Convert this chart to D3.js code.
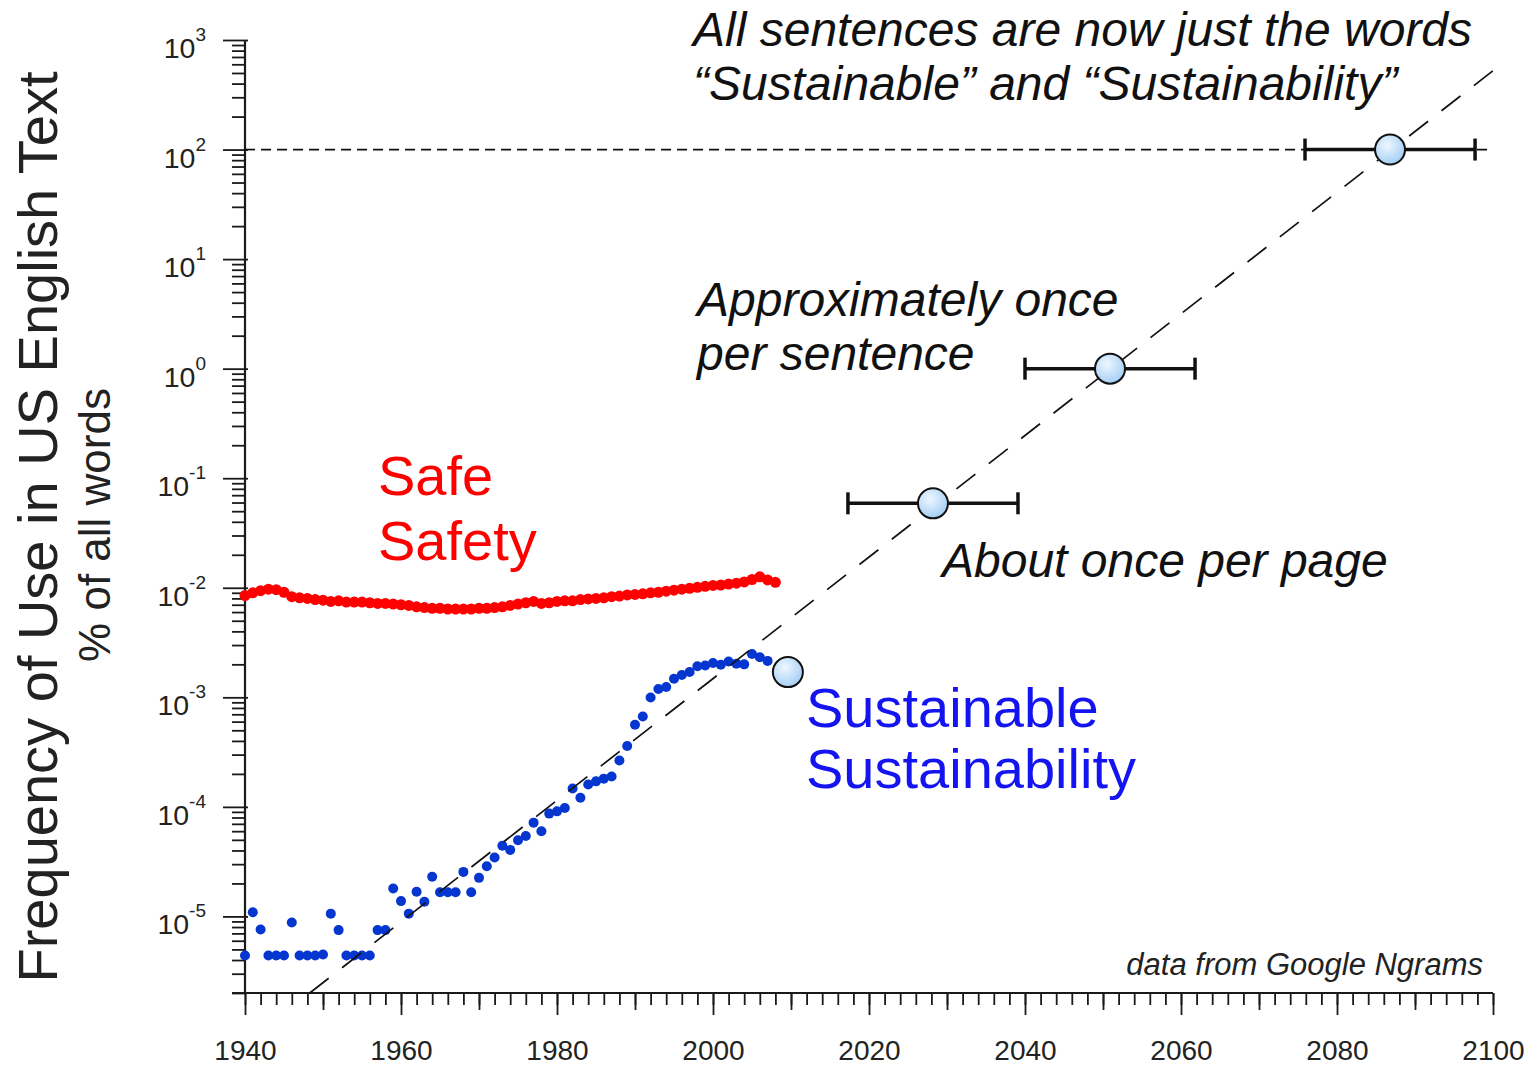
<!DOCTYPE html>
<html>
<head>
<meta charset="utf-8">
<script src="https://d3js.org/d3.v7.min.js"></script>
<style>
  body { margin: 0; background: #fff; }
  svg { display: block; font-family: Arial, "Liberation Sans", Helvetica, sans-serif; }
</style>
</head>
<body>
<div id="chart"></div>
<script>
// Data ----------------------------------------------
const safeYears = [1940,1941,1942,1943,1944,1945,1946,1947,1948,1949,
  1950,1951,1952,1953,1954,1955,1956,1957,1958,1959,
  1960,1961,1962,1963,1964,1965,1966,1967,1968,1969,
  1970,1971,1972,1973,1974,1975,1976,1977,1978,1979,
  1980,1981,1982,1983,1984,1985,1986,1987,1988,1989,
  1990,1991,1992,1993,1994,1995,1996,1997,1998,1999,
  2000,2001,2002,2003,2004,2005,2006,2007,2008];
const safeValues = [8.5e-3,9.0e-3,9.4e-3,9.7e-3,9.6e-3,9.1e-3,8.3e-3,8.1e-3,8.0e-3,7.8e-3,
  7.7e-3,7.5e-3,7.6e-3,7.4e-3,7.4e-3,7.4e-3,7.3e-3,7.2e-3,7.2e-3,7.1e-3,
  7.0e-3,6.9e-3,6.7e-3,6.6e-3,6.5e-3,6.5e-3,6.4e-3,6.4e-3,6.4e-3,6.4e-3,
  6.5e-3,6.5e-3,6.6e-3,6.7e-3,6.9e-3,7.1e-3,7.3e-3,7.5e-3,7.2e-3,7.3e-3,
  7.5e-3,7.6e-3,7.6e-3,7.8e-3,7.9e-3,8.0e-3,8.1e-3,8.3e-3,8.4e-3,8.6e-3,
  8.7e-3,8.8e-3,9.0e-3,9.1e-3,9.3e-3,9.5e-3,9.7e-3,9.9e-3,1.01e-2,1.03e-2,
  1.05e-2,1.06e-2,1.08e-2,1.10e-2,1.13e-2,1.19e-2,1.26e-2,1.18e-2,1.12e-2];

const sustYears = [1940,1941,1942,1943,1944,1945,1946,1947,1948,1949,
  1950,1951,1952,1953,1954,1955,1956,1957,1958,1959,
  1960,1961,1962,1963,1964,1965,1966,1967,1968,1969,
  1970,1971,1972,1973,1974,1975,1976,1977,1978,1979,
  1980,1981,1982,1983,1984,1985,1986,1987,1988,1989,
  1990,1991,1992,1993,1994,1995,1996,1997,1998,1999,
  2000,2001,2002,2003,2004,2005,2006,2007];
const sustValues = [4.4e-6,1.09e-5,7.6e-6,4.4e-6,4.4e-6,4.4e-6,8.8e-6,4.4e-6,4.4e-6,4.4e-6,
  4.5e-6,1.06e-5,7.5e-6,4.4e-6,4.4e-6,4.4e-6,4.4e-6,7.5e-6,7.5e-6,1.80e-5,
  1.38e-5,1.06e-5,1.68e-5,1.36e-5,2.30e-5,1.66e-5,1.66e-5,1.66e-5,2.55e-5,1.66e-5,
  2.25e-5,2.87e-5,3.45e-5,4.41e-5,4.05e-5,4.95e-5,5.43e-5,7.18e-5,5.98e-5,8.68e-5,
  9.10e-5,9.77e-5,1.47e-4,1.21e-4,1.60e-4,1.71e-4,1.81e-4,1.89e-4,2.65e-4,3.59e-4,
  5.61e-4,6.68e-4,9.96e-4,1.19e-3,1.24e-3,1.48e-3,1.60e-3,1.70e-3,1.92e-3,1.95e-3,
  2.06e-3,1.98e-3,2.12e-3,2.03e-3,2.00e-3,2.49e-3,2.32e-3,2.15e-3];

// Projected points with +/- year errors
const projYears = [2009.6, 2028.2, 2050.9, 2086.8];
const projValues = [1.7e-3, 0.059, 1.0, 100];
const projErrors = [0, 10.9, 10.9, 10.9];

// Dashed trend line end points
const trendYears = [1948.3, 2100];
const trendValues = [2e-6, 525];

const allWordsLevel = 100;

const xLabelTicks = [1940, 1960, 1980, 2000, 2020, 2040, 2060, 2080, 2100];
const yLabelExponents = [-5, -4, -3, -2, -1, 0, 1, 2, 3];

// Constants ----------------------------------------------
const width = 1539;
const height = 1065;
const margin = {left: 245, right: 46, top: 40, bottom: 72};

const red = "#ff0000";
const blueDot = "#0636d0";
const blueText = "#1414f0";
const axisColor = "#1a1a1a";
const textColor = "#222";

// Scale functions ----------------------------------------------
let x = d3.scaleLinear()
  .domain([1940, 2100])
  .range([margin.left, width - margin.right]);

let y = d3.scaleLog()
  .domain([2e-6, 1000])
  .range([height - margin.bottom, margin.top]);

// Functions ----------------------------------------------

function initViz(selector) {
  const svg = d3.select(`#${selector}`)
    .append("svg")
    .attr("width", width)
    .attr("height", height);

  const grad = svg.append("defs").append("radialGradient")
    .attr("id", "bubble")
    .attr("cx", "40%").attr("cy", "35%").attr("r", "65%");
  grad.append("stop").attr("offset", "0%").attr("stop-color", "#eef7ff");
  grad.append("stop").attr("offset", "100%").attr("stop-color", "#a6cff5");

  return svg;
}

function initAxes(svg) {
  const bottom = height - margin.bottom;

  // x ticks: every 2 years, every 10, labelled every 20
  const xMinor = [], xMid = [];
  for (let yr = 1940; yr <= 2100; yr += 2) xMinor.push(yr);
  for (let yr = 1950; yr <= 2100; yr += 20) xMid.push(yr);

  const xAxes = [
    {ticks: xMinor, size: 12, labels: false},
    {ticks: xMid, size: 17, labels: false},
    {ticks: xLabelTicks, size: 22, labels: true}
  ];
  xAxes.forEach(a => {
    const g = svg.append("g")
      .attr("transform", `translate(0,${bottom})`)
      .call(d3.axisBottom(x)
        .tickValues(a.ticks)
        .tickSize(a.size)
        .tickSizeOuter(0)
        .tickPadding(25)
        .tickFormat(a.labels ? d3.format("d") : ""));
    g.select(".domain").remove();
    g.selectAll(".tick line").attr("stroke", axisColor).attr("stroke-width", 1.8);
    g.selectAll(".tick text")
      .attr("font-size", 28)
      .attr("font-family", "Arial, 'Liberation Sans', sans-serif")
      .attr("fill", textColor);
  });

  // y ticks: 2..9 minor in each decade, major at decades
  const yMinor = [];
  for (let e = -6; e <= 2; e++) {
    for (let m = 2; m <= 9; m++) {
      const v = m * Math.pow(10, e);
      if (v >= 2e-6 && v <= 1000) yMinor.push(v);
    }
  }
  const yMajor = yLabelExponents.map(e => Math.pow(10, e));

  const gMinor = svg.append("g")
    .attr("transform", `translate(${margin.left},0)`)
    .call(d3.axisLeft(y).tickValues(yMinor).tickSize(13).tickSizeOuter(0).tickFormat(""));
  gMinor.select(".domain").remove();
  gMinor.selectAll(".tick line").attr("stroke", axisColor).attr("stroke-width", 1.8);

  const gMajor = svg.append("g")
    .attr("transform", `translate(${margin.left},0)`)
    .call(d3.axisLeft(y).tickValues(yMajor).tickSize(22).tickSizeOuter(0).tickFormat(""));
  gMajor.select(".domain").remove();
  gMajor.selectAll(".tick line")
    .attr("x2", -22).attr("x1", 3)
    .attr("stroke", axisColor).attr("stroke-width", 1.8);

  // decade labels as 10 with superscript
  const labels = svg.append("g");
  yLabelExponents.forEach(e => {
    const t = labels.append("text")
      .attr("x", margin.left - 39)
      .attr("y", y(Math.pow(10, e)) + 18)
      .attr("text-anchor", "end")
      .attr("fill", textColor)
      .attr("font-size", 28.5);
    t.append("tspan").text("10");
    t.append("tspan").attr("dy", -17).attr("font-size", 19).text(e);
  });

  // axis lines
  svg.append("line")
    .attr("x1", margin.left).attr("x2", margin.left)
    .attr("y1", y(1000)).attr("y2", bottom)
    .attr("stroke", axisColor).attr("stroke-width", 2.2);
  svg.append("line")
    .attr("x1", margin.left - 13).attr("x2", x(2100))
    .attr("y1", bottom).attr("y2", bottom)
    .attr("stroke", axisColor).attr("stroke-width", 2.2);
}

function initDots(svg, years, values, color, r) {
  svg.append("g")
    .selectAll("circle")
    .data(years.map((yr, i) => ({yr, v: values[i]})))
    .enter()
    .append("circle")
    .attr("cx", d => x(d.yr))
    .attr("cy", d => y(d.v))
    .attr("r", r)
    .attr("fill", color);
}

function initGuides(svg) {
  svg.append("line")
    .attr("x1", x(1940)).attr("x2", x(2100))
    .attr("y1", y(allWordsLevel)).attr("y2", y(allWordsLevel))
    .attr("stroke", "#111")
    .attr("stroke-width", 1.7)
    .attr("stroke-dasharray", "10 6");

  svg.append("line")
    .attr("x1", x(trendYears[0])).attr("y1", y(trendValues[0]))
    .attr("x2", x(trendYears[1])).attr("y2", y(trendValues[1]))
    .attr("stroke", "#111")
    .attr("stroke-width", 1.7)
    .attr("stroke-dasharray", "24 17");
}

function initProjections(svg) {
  const data = projYears.map((yr, i) => ({yr, v: projValues[i], err: projErrors[i]}));
  const bars = data.filter(d => d.err > 0);

  const g = svg.append("g").attr("stroke", "#111").attr("stroke-width", 3.5);
  g.selectAll(".bar")
    .data(bars).enter().append("line")
    .attr("x1", d => x(d.yr - d.err)).attr("x2", d => x(d.yr + d.err))
    .attr("y1", d => y(d.v)).attr("y2", d => y(d.v));
  g.selectAll(".capL")
    .data(bars).enter().append("line")
    .attr("x1", d => x(d.yr - d.err)).attr("x2", d => x(d.yr - d.err))
    .attr("y1", d => y(d.v) - 11).attr("y2", d => y(d.v) + 11);
  g.selectAll(".capR")
    .data(bars).enter().append("line")
    .attr("x1", d => x(d.yr + d.err)).attr("x2", d => x(d.yr + d.err))
    .attr("y1", d => y(d.v) - 11).attr("y2", d => y(d.v) + 11);

  svg.append("g")
    .selectAll("circle")
    .data(data).enter().append("circle")
    .attr("cx", d => x(d.yr))
    .attr("cy", d => y(d.v))
    .attr("r", 15)
    .attr("fill", "url(#bubble)")
    .attr("stroke", "#111")
    .attr("stroke-width", 2);
}

function addText(svg, str, px, py, opts) {
  return svg.append("text")
    .attr("x", px).attr("y", py)
    .attr("font-size", opts.size)
    .attr("font-style", opts.italic ? "italic" : "normal")
    .attr("fill", opts.color || textColor)
    .attr("text-anchor", opts.anchor || "start")
    .text(str);
}

function initLabels(svg) {
  const ann = {size: 48, italic: true, color: "#111"};
  addText(svg, "All sentences are now just the words", 693, 46, ann);
  addText(svg, "\u201cSustainable\u201d and \u201cSustainability\u201d", 693, 100, ann);
  addText(svg, "Approximately once", 697, 316, ann);
  addText(svg, "per sentence", 697, 370, ann);
  addText(svg, "About once per page", 942, 577, ann);

  addText(svg, "Safe", 378, 495, {size: 56, color: red});
  addText(svg, "Safety", 378, 560, {size: 56, color: red});
  addText(svg, "Sustainable", 806, 727, {size: 56, color: blueText});
  addText(svg, "Sustainability", 806, 788, {size: 56, color: blueText});

  addText(svg, "data from Google Ngrams", 1483, 975, {size: 31, italic: true, color: "#222", anchor: "end"});

  svg.append("text")
    .attr("transform", "translate(57,527) rotate(-90)")
    .attr("text-anchor", "middle")
    .attr("font-size", 56)
    .attr("fill", textColor)
    .text("Frequency of Use in US English Text");

  svg.append("text")
    .attr("transform", "translate(110,525) rotate(-90)")
    .attr("text-anchor", "middle")
    .attr("font-size", 44)
    .attr("fill", textColor)
    .text("% of all words");
}

// Draw ----------------------------------------------
const svg = initViz("chart");
initAxes(svg);
initDots(svg, safeYears, safeValues, red, 5.5);
initDots(svg, sustYears, sustValues, blueDot, 5);
initGuides(svg);
initProjections(svg);
initLabels(svg);
</script>
</body>
</html>
